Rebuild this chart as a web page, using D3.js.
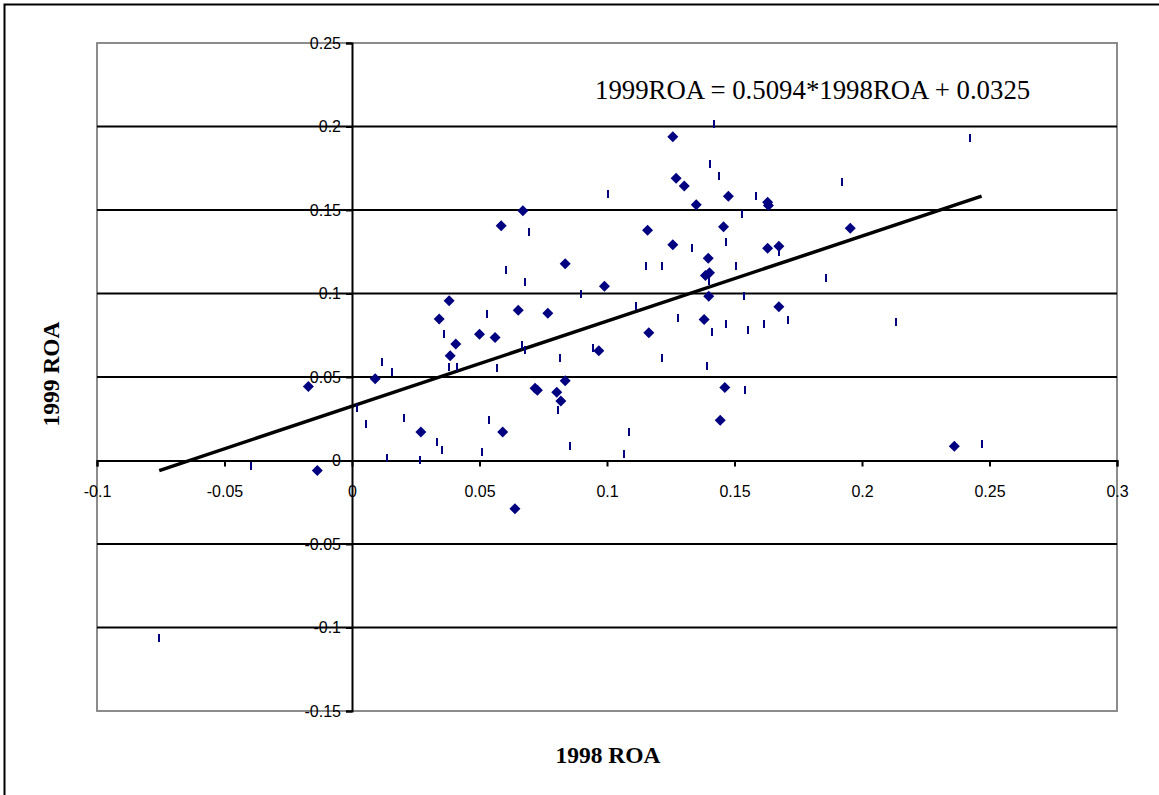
<!DOCTYPE html>
<html>
<head>
<meta charset="utf-8">
<script src="https://cdn.jsdelivr.net/npm/d3@7"></script>
<style>
  html, body { margin: 0; padding: 0; background: #fff; }
  svg { display: block; }
</style>
</head>
<body>
<svg id="chart" width="1159" height="795"></svg>
<script>
// ---- data ----
const xTicks = [-0.1, -0.05, 0, 0.05, 0.1, 0.15, 0.2, 0.25, 0.3];
const yTicks = [-0.15, -0.1, -0.05, 0, 0.05, 0.1, 0.15, 0.2, 0.25];
const xTitle = "1998 ROA";
const yTitle = "1999 ROA";
const equationText = "1999ROA = 0.5094*1998ROA + 0.0325";
const slope = 0.5094;
const intercept = 0.0325;

// series drawn with diamond markers: [1998 ROA, 1999 ROA]
const diamondPoints = [
  [-0.0171, 0.0443], [-0.0136, -0.006], [0.0091, 0.0489], [0.027, 0.017],
  [0.0342, 0.0848], [0.0381, 0.0956], [0.0385, 0.0627], [0.0407, 0.0697],
  [0.050, 0.0756], [0.0561, 0.0737], [0.0585, 0.1405], [0.0591, 0.017],
  [0.0639, -0.0289], [0.0652, 0.090], [0.067, 0.1495], [0.0718, 0.0433],
  [0.0727, 0.0421], [0.0768, 0.0882], [0.0803, 0.0409], [0.0819, 0.0357],
  [0.0836, 0.0477], [0.0836, 0.1178], [0.0968, 0.0657], [0.0990, 0.1044],
  [0.1159, 0.1379], [0.1164, 0.0765], [0.1258, 0.1938], [0.1258, 0.1292],
  [0.1271, 0.169], [0.1303, 0.1643], [0.135, 0.1531], [0.1381, 0.0844],
  [0.1386, 0.1108], [0.1402, 0.1124], [0.1397, 0.1211], [0.1399, 0.0984],
  [0.1444, 0.0241], [0.1457, 0.1399], [0.1462, 0.0437], [0.1476, 0.1583],
  [0.163, 0.1547], [0.1633, 0.1527], [0.163, 0.1271], [0.1674, 0.1283],
  [0.1674, 0.092], [0.1954, 0.1391], [0.2362, 0.0086]
];

// series drawn with short vertical dash markers: [1998 ROA, 1999 ROA]
const dashPoints = [
  [-0.0756, -0.1064], [-0.0395, -0.003], [0.0021, 0.0313], [0.0053, 0.0217],
  [0.0117, 0.0591], [0.0139, 0.0016], [0.0155, 0.0529], [0.0202, 0.0253],
  [0.0265, 0.0004], [0.0335, 0.011], [0.0351, 0.0064], [0.0359, 0.0756],
  [0.0382, 0.0557], [0.0413, 0.0557], [0.0508, 0.005], [0.0531, 0.0876],
  [0.0539, 0.0241], [0.057, 0.0553], [0.0602, 0.114], [0.0665, 0.0693],
  [0.068, 0.0663], [0.068, 0.1068], [0.0695, 0.1367], [0.0806, 0.0301],
  [0.0814, 0.0613], [0.0853, 0.0086], [0.09, 0.0996], [0.0947, 0.0672],
  [0.1002, 0.1595], [0.1065, 0.0038], [0.1088, 0.017], [0.1112, 0.0924],
  [0.1151, 0.1163], [0.1214, 0.1163], [0.1214, 0.0613], [0.1277, 0.0852],
  [0.1332, 0.1271], [0.1394, 0.0565], [0.1399, 0.1072], [0.1402, 0.1774],
  [0.141, 0.0768], [0.1418, 0.2016], [0.1441, 0.1702], [0.1465, 0.1307],
  [0.1465, 0.0816], [0.1504, 0.1163], [0.1528, 0.1475], [0.1536, 0.0984],
  [0.1543, 0.0421], [0.1551, 0.078], [0.1583, 0.1583], [0.1614, 0.0816],
  [0.1674, 0.1251], [0.1708, 0.084], [0.1857, 0.1092], [0.192, 0.1665],
  [0.2132, 0.0828], [0.2422, 0.193], [0.2469, 0.0098]
];

// ---- layout ----
const plot = { left: 97, top: 43, right: 1117, bottom: 711 };
const markColor = "#000080";
const sans = "Arial, 'Liberation Sans', sans-serif";
const serif = "'Times New Roman', 'Liberation Serif', serif";

const svg = d3.select("#chart");

// outer frame
svg.append("rect")
  .attr("x", 4.5).attr("y", 4.5)
  .attr("width", 1170).attr("height", 810)
  .attr("fill", "none").attr("stroke", "#000").attr("stroke-width", 2);

const x = d3.scaleLinear().domain([xTicks[0], xTicks[xTicks.length - 1]]).range([plot.left, plot.right]);
const y = d3.scaleLinear().domain([yTicks[0], yTicks[yTicks.length - 1]]).range([plot.bottom, plot.top]);

// plot area border
svg.append("rect")
  .attr("x", plot.left).attr("y", plot.top)
  .attr("width", plot.right - plot.left).attr("height", plot.bottom - plot.top)
  .attr("fill", "#fff").attr("stroke", "#808080").attr("stroke-width", 1.8);

// horizontal gridlines
const gridVals = yTicks.filter(v => v !== yTicks[0] && v !== yTicks[yTicks.length - 1] && v !== 0);
svg.append("g").selectAll("line").data(gridVals).join("line")
  .attr("x1", plot.left).attr("x2", plot.right)
  .attr("y1", d => y(d)).attr("y2", d => y(d))
  .attr("stroke", "#000").attr("stroke-width", 2);

const fmt = d => String(+d.toFixed(2));

// y axis (at x = 0)
const yAxis = d3.axisLeft(y).tickValues(yTicks).tickSize(6).tickPadding(5).tickFormat(fmt);
const gy = svg.append("g").attr("transform", `translate(${x(0)},0)`).call(yAxis);
gy.attr("font-size", null).attr("font-family", null);
gy.select(".domain").attr("stroke", "#000").attr("stroke-width", 2);
gy.selectAll(".tick line").attr("stroke", "#000").attr("stroke-width", 2);
gy.selectAll(".tick text")
  .attr("font-family", sans).attr("font-size", 16).attr("fill", "#000");

// x axis (at y = 0)
const xAxis = d3.axisBottom(x).tickValues(xTicks).tickSize(6).tickPadding(19).tickFormat(fmt);
const gx = svg.append("g").attr("transform", `translate(0,${y(0)})`).call(xAxis);
gx.attr("font-size", null).attr("font-family", null);
gx.select(".domain").attr("stroke", "#000").attr("stroke-width", 2);
gx.selectAll(".tick line").attr("stroke", "#000").attr("stroke-width", 2);
gx.selectAll(".tick text")
  .attr("font-family", sans).attr("font-size", 16).attr("fill", "#000");

// trend line
const allX = diamondPoints.concat(dashPoints).map(d => d[0]);
const xMin = d3.min(allX), xMax = d3.max(allX);
svg.append("line")
  .attr("x1", x(xMin)).attr("y1", y(slope * xMin + intercept))
  .attr("x2", x(xMax)).attr("y2", y(slope * xMax + intercept))
  .attr("stroke", "#000").attr("stroke-width", 3.5);

// dash markers
svg.append("g").selectAll("rect").data(dashPoints).join("rect")
  .attr("x", d => Math.round(x(d[0])) - 1)
  .attr("y", d => Math.round(y(d[1])) - 4)
  .attr("width", 2).attr("height", 8)
  .attr("fill", markColor);

// diamond markers
svg.append("g").selectAll("path").data(diamondPoints).join("path")
  .attr("transform", d => `translate(${x(d[0])},${y(d[1])})`)
  .attr("d", "M0,-5.5L5.5,0L0,5.5L-5.5,0Z")
  .attr("fill", markColor);

// equation
svg.append("text")
  .attr("x", 595).attr("y", 99)
  .attr("font-family", serif)
  .attr("font-size", 26.8).attr("fill", "#000")
  .text(equationText);

// axis titles
svg.append("text")
  .attr("x", (plot.left + plot.right) / 2 + 1).attr("y", 763)
  .attr("text-anchor", "middle")
  .attr("font-family", serif)
  .attr("font-weight", "bold").attr("font-size", 23.5).attr("fill", "#000")
  .text(xTitle);

svg.append("text")
  .attr("transform", `translate(59,${(plot.top + plot.bottom) / 2 - 3}) rotate(-90)`)
  .attr("text-anchor", "middle")
  .attr("font-family", serif)
  .attr("font-weight", "bold").attr("font-size", 23.5).attr("fill", "#000")
  .text(yTitle);
</script>
</body>
</html>
